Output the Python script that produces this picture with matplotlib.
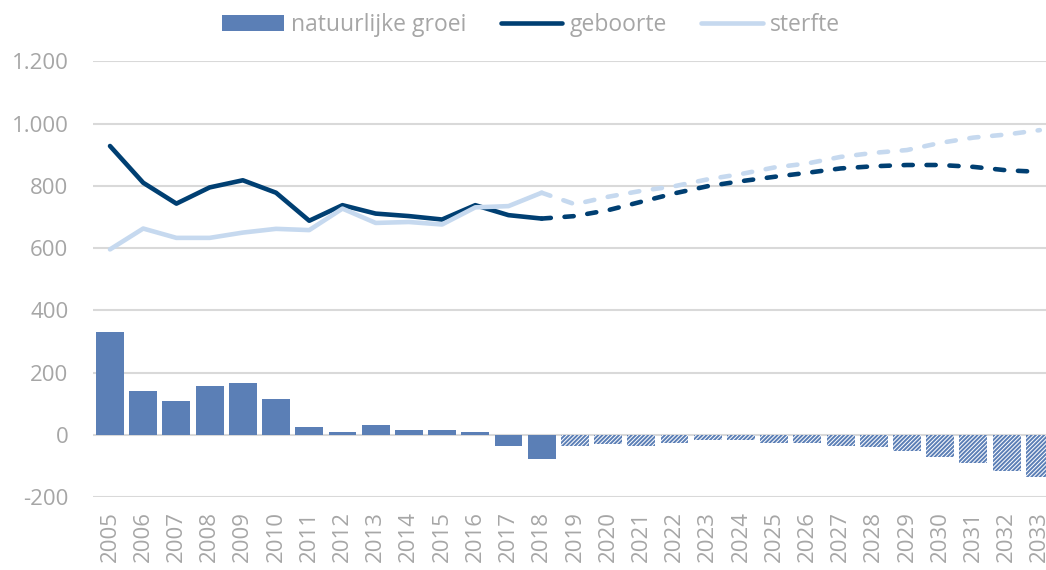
import numpy as np
import matplotlib
matplotlib.use("Agg")
import matplotlib.pyplot as plt
from matplotlib.patches import Patch
from matplotlib.lines import Line2D

plt.rcParams['font.family'] = ['Open Sans', 'DejaVu Sans']

years = list(range(2005, 2034))
groei = [331, 142, 110, 158, 168, 115, 25, 11, 33, 16, 15, 11, -35, -76,
         -34, -30, -34, -27, -16, -16, -27, -27, -35, -40, -50, -71, -89, -116, -134]
geboorte = [928, 810, 743, 795, 818, 778, 688, 738, 711, 703, 692, 738, 706, 695,
            703, 722, 749, 776, 799, 815, 829, 842, 856, 863, 867, 867, 861, 850, 845]
sterfte = [596, 663, 633, 633, 650, 662, 658, 727, 681, 684, 676, 731, 735, 778,
           741, 765, 784, 799, 821, 838, 859, 872, 893, 906, 915, 938, 955, 965, 979]
last_real = 2018

bar_col = '#5B7FB6'
dark = '#003F72'
light = '#C6D9EF'
grey = '#A6A6A6'

fig = plt.figure(figsize=(10.46, 5.70), dpi=100)
ax = fig.add_axes([93.4/1046, 72.7/570, 963/1046, 436/570])

x = np.arange(len(years))
n_real = years.index(last_real) + 1

plt.rcParams['hatch.linewidth'] = 1.4
ax.bar(x[:n_real], groei[:n_real], width=0.84, color=bar_col, zorder=2)
ax.bar(x[n_real:], groei[n_real:], width=0.84, facecolor='white',
       edgecolor=bar_col, hatch='////////', linewidth=0, zorder=2)

lw = 3.3
ax.plot(x[:n_real], geboorte[:n_real], color=dark, lw=lw, solid_capstyle='round',
        solid_joinstyle='round', zorder=3)
ax.plot(x[n_real-1:], geboorte[n_real-1:], color=dark, lw=lw, dashes=(2, 3),
        dash_capstyle='round', zorder=3)
ax.plot(x[:n_real], sterfte[:n_real], color=light, lw=lw, solid_capstyle='round',
        solid_joinstyle='round', zorder=4)
ax.plot(x[n_real-1:], sterfte[n_real-1:], color=light, lw=lw, dashes=(2, 3),
        dash_capstyle='round', zorder=4)

ax.set_xlim(-0.5, len(years) - 0.5)
ax.set_ylim(-200, 1200)
ax.set_yticks(range(-200, 1201, 200))
ax.set_yticklabels([f"{v:,}".replace(",", ".") for v in range(-200, 1201, 200)])
ax.set_xticks(x)
ax.set_xticklabels([str(y) for y in years], rotation=90)
ax.grid(axis='y', color='#D9D9D9', lw=1.5, zorder=0)
ax.set_axisbelow(True)
for s in ax.spines.values():
    s.set_visible(False)
ax.tick_params(axis='both', length=0, colors=grey, labelsize=16)
ax.tick_params(axis='y', pad=18)
ax.tick_params(axis='x', pad=10)

handles = [Patch(facecolor=bar_col, edgecolor='none'),
           Line2D([], [], color=dark, lw=lw, solid_capstyle='round'),
           Line2D([], [], color=light, lw=lw, solid_capstyle='round')]
leg = fig.legend(handles, ['natuurlijke groei', 'geboorte', 'sterfte'],
                 loc='center', bbox_to_anchor=(531/1046, 1 - 25/570), ncol=3,
                 frameon=False, fontsize=16.5, handlelength=2.7, handleheight=0.65,
                 handletextpad=0.3, columnspacing=1.5, labelcolor=grey)

fig.savefig('out.png', dpi=100)
